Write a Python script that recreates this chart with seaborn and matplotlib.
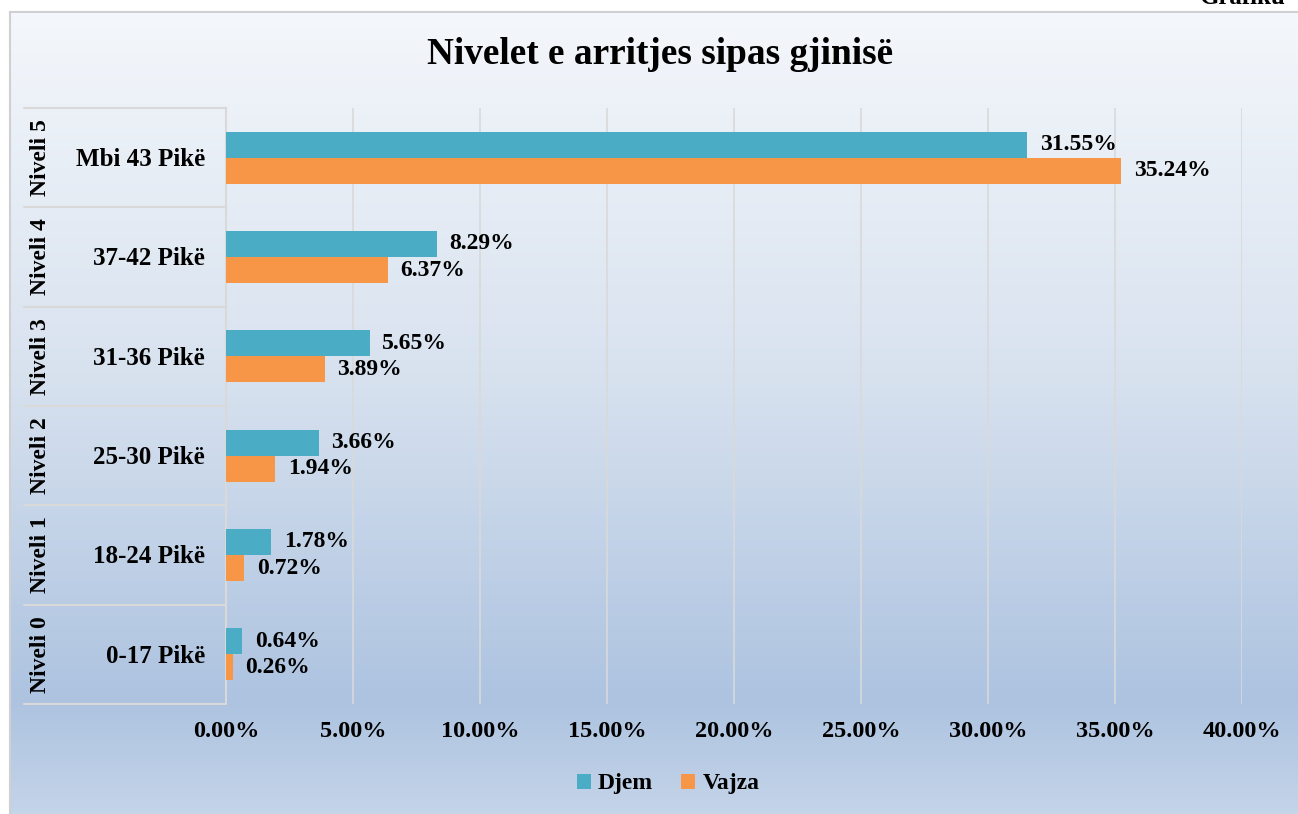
import numpy as np
import pandas as pd
import matplotlib
matplotlib.use("Agg")
import matplotlib.pyplot as plt
from matplotlib.patches import Patch
from matplotlib.colors import LinearSegmentedColormap
import seaborn as sns

# ---- data ----
levels = ["Niveli 5", "Niveli 4", "Niveli 3", "Niveli 2", "Niveli 1", "Niveli 0"]
points = ["Mbi 43 Pikë", "37-42 Pikë", "31-36 Pikë", "25-30 Pikë", "18-24 Pikë", "0-17 Pikë"]
djem = [31.55, 8.29, 5.65, 3.66, 1.78, 0.64]
vajza = [35.24, 6.37, 3.89, 1.94, 0.72, 0.26]
series = ["Djem", "Vajza"]
xticks = [0, 5, 10, 15, 20, 25, 30, 35, 40]
title = "Nivelet e arritjes sipas gjinisë"

df = pd.DataFrame({
    "cat": points * 2,
    "val": djem + vajza,
    "gjinia": ["Djem"] * len(points) + ["Vajza"] * len(points),
})

sns.set_theme(style="white")
plt.rcParams["font.family"] = ["Liberation Serif", "DejaVu Serif"]
plt.rcParams["font.weight"] = "bold"
plt.rcParams["text.color"] = "black"
plt.rcParams["xtick.color"] = "black"
plt.rcParams["xtick.labelcolor"] = "black"

W, H = 1298, 814
fig = plt.figure(figsize=(W / 100, H / 100), dpi=100)
fig.patch.set_facecolor("white")

# background gradient box
bg = fig.add_axes([10 / W, 0, 1 - 10 / W, 1 - 12 / H], zorder=-5)
cmap = LinearSegmentedColormap.from_list(
    "bg", [(0, "#f4f7fb"), (0.45, "#d8e2ef"), (0.86, "#adc3e0"), (1.0, "#c4d4e9")])
grad = np.linspace(0, 1, 256).reshape(-1, 1)
bg.imshow(grad, aspect="auto", cmap=cmap, extent=[0, 1, 0, 1], origin="upper")
bg.set_xlim(0, 1)
bg.set_ylim(0, 1)
bg.set_xticks([])
bg.set_yticks([])
for s in ["top", "left"]:
    bg.spines[s].set_color("#d0d0d0")
    bg.spines[s].set_linewidth(1.5)
for s in ["bottom", "right"]:
    bg.spines[s].set_visible(False)

left, right = 226 / W, 1242 / W
bottom, top = 1 - 704 / H, 1 - 108 / H
ax = fig.add_axes([left, bottom, right - left, top - bottom])
ax.set_facecolor("none")

palette = {"Djem": "#4bacc6", "Vajza": "#f79646"}
sns.barplot(data=df, y="cat", x="val", hue="gjinia", order=points,
            hue_order=series, palette=palette, orient="h", width=0.524,
            saturation=1, ax=ax, legend=False, zorder=3, linewidth=0,
            edgecolor="none")

ax.set_xlim(0, 40)
ax.set_ylim(len(points) - 0.5, -0.5)
ax.set_xticks(xticks)
ax.set_xticklabels([f"{t:.2f}%" for t in xticks], fontsize=17.5,
                   fontweight="bold", color="black")
ax.tick_params(axis="x", length=0, pad=12, labelcolor="black")
ax.set_yticks([])
ax.set_xlabel("")
ax.set_ylabel("")
ax.grid(axis="x", color="#d9d9d9", linewidth=1.2, zorder=0)
ax.set_axisbelow(True)
for s in ["top", "right", "bottom"]:
    ax.spines[s].set_visible(False)
ax.spines["left"].set_color("#d9d9d9")
ax.spines["left"].set_linewidth(1.5)

for cont in ax.containers:
    ax.bar_label(cont, labels=[f"{v:.2f}%" for v in cont.datavalues],
                 padding=9, fontsize=17, fontweight="bold", color="black")

# multi-level category labels
trans = matplotlib.transforms.blended_transform_factory(ax.transAxes, ax.transData)
x_line0 = (24 - 226) / 1016
for i in range(len(points) + 1):
    ax.plot([x_line0, 0], [i - 0.5, i - 0.5], transform=trans, color="#d9d9d9",
            lw=1.5, clip_on=False)
for i, (lv, pt) in enumerate(zip(levels, points)):
    ax.text((205 - 226) / 1016, i + 0.02, pt, transform=trans, ha="right", va="center",
            fontsize=18, fontweight="bold", color="black")
    ax.text((41 - 226) / 1016, i, lv, transform=trans, ha="center", va="center",
            rotation=90, fontsize=17, fontweight="bold", color="black")

fig.text(660 / W, 1 - 55 / H, title, ha="center", va="center",
         fontsize=26.8, fontweight="bold", color="black")
fig.text(1200 / W, 1 - 4 / H, "Grafiku", ha="left", va="baseline",
         fontsize=18, fontweight="bold", color="black")

handles = [Patch(facecolor=palette[s], edgecolor="none", label=s) for s in series]
leg = fig.legend(handles=handles, loc="center", bbox_to_anchor=(668 / W, 1 - 784 / H),
                 ncol=2, frameon=False, handlelength=0.6, handleheight=0.6,
                 handletextpad=0.3, columnspacing=1.2,
                 prop={"family": "Liberation Serif", "weight": "bold", "size": 17})
for t in leg.get_texts():
    t.set_color("black")

fig.savefig("out.png", dpi=100)
